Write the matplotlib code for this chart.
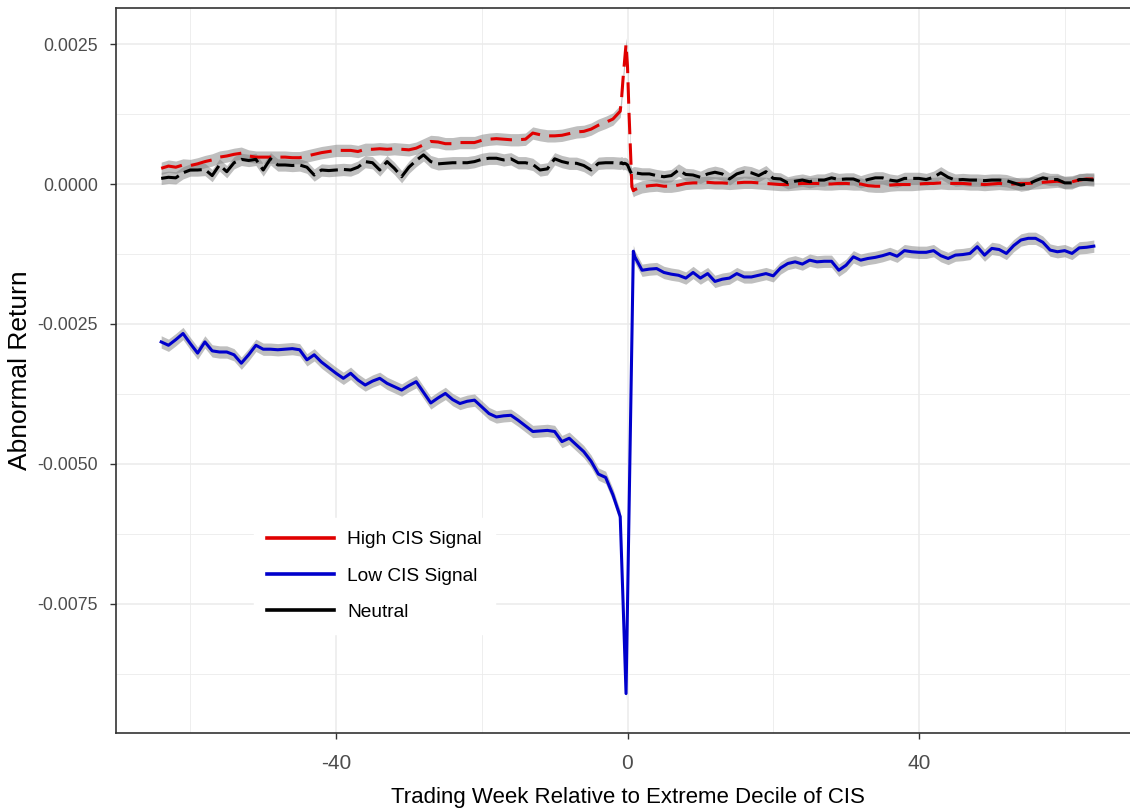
import numpy as np
import matplotlib.pyplot as plt
from matplotlib.lines import Line2D

# event time in trading weeks (daily steps around the event)
weeks_pre = np.arange(-64, -1)
weeks_event = [-1.0, -0.8, -0.6, -0.4, -0.2, 0.0, 0.2, 0.4, 0.6, 0.8, 1.0]
weeks_post = np.arange(2, 65)
weeks = np.concatenate([weeks_pre, weeks_event, weeks_post])

high_pre = [0.00028, 0.00032, 0.00030, 0.00034, 0.00033, 0.00036, 0.00040, 0.00043, 0.00048, 0.00050,
            0.00053, 0.00055, 0.00050, 0.00048, 0.00048, 0.00048, 0.00048, 0.00048, 0.00047, 0.00047,
            0.00050, 0.00053, 0.00056, 0.00058, 0.00060, 0.00060, 0.00060, 0.00058, 0.00062, 0.00062,
            0.00063, 0.00062, 0.00063, 0.00062, 0.00061, 0.00064, 0.00070, 0.00076, 0.00075, 0.00072,
            0.00072, 0.00074, 0.00074, 0.00074, 0.00078, 0.00080, 0.00081, 0.00080, 0.00079, 0.00079,
            0.00080, 0.00091, 0.00088, 0.00086, 0.00086, 0.00087, 0.00090, 0.00093, 0.00094, 0.00098,
            0.00105, 0.00110, 0.00116]
high_event = [0.00130, 0.00155, 0.00190, 0.00220, 0.00250, 0.00210, 0.00130, 0.00060, -0.00005, -0.00012, -0.00010]
high_post = [-0.00005, -0.00003, -0.00002, -0.00004, -0.00004, -0.00002, 0.00001, 0.00002, 0.00002, 0.00003,
             0.00002, 0.00002, 0.00001, 0.00002, 0.00003, 0.00003, 0.00002, 0.00001, 0.00000, -0.00001,
             -0.00001, 0.00000, 0.00001, 0.00001, 0.00001, 0.00000, 0.00000, 0.00001, 0.00001, 0.00000,
             0.00000, -0.00003, -0.00004, -0.00004, -0.00002, -0.00001, -0.00001, -0.00001, 0.00000, 0.00001,
             0.00001, 0.00002, 0.00001, 0.00001, 0.00001, 0.00000, 0.00000, -0.00001, 0.00000, 0.00001,
             0.00000, 0.00000, 0.00001, 0.00001, 0.00002, 0.00003, 0.00004, 0.00005, 0.00003, 0.00004,
             0.00007, 0.00009, 0.00009]

low_pre = [-0.00282, -0.00288, -0.00278, -0.00267, -0.00285, -0.00302, -0.00282, -0.00298, -0.00300, -0.00300,
           -0.00305, -0.00320, -0.00305, -0.00288, -0.00295, -0.00295, -0.00296, -0.00295, -0.00294, -0.00296,
           -0.00314, -0.00305, -0.00318, -0.00328, -0.00338, -0.00347, -0.00338, -0.00350, -0.00359, -0.00352,
           -0.00347, -0.00356, -0.00362, -0.00368, -0.00360, -0.00353, -0.00372, -0.00391, -0.00382, -0.00374,
           -0.00385, -0.00392, -0.00388, -0.00386, -0.00398, -0.00410, -0.00416, -0.00414, -0.00413, -0.00422,
           -0.00432, -0.00442, -0.00441, -0.00440, -0.00442, -0.00460, -0.00454, -0.00466, -0.00478, -0.00495,
           -0.00518, -0.00524, -0.00555]
low_event = [-0.00594, -0.00670, -0.00750, -0.00830, -0.00910, -0.00750, -0.00600, -0.00440, -0.00280, -0.00120, -0.00130]
low_post = [-0.00154, -0.00152, -0.00151, -0.00158, -0.00161, -0.00163, -0.00168, -0.00158, -0.00168, -0.00160,
            -0.00174, -0.00170, -0.00168, -0.00160, -0.00166, -0.00166, -0.00163, -0.00160, -0.00164, -0.00150,
            -0.00142, -0.00139, -0.00143, -0.00136, -0.00139, -0.00138, -0.00138, -0.00154, -0.00145, -0.00130,
            -0.00136, -0.00133, -0.00131, -0.00128, -0.00124, -0.00129, -0.00119, -0.00121, -0.00122, -0.00122,
            -0.00119, -0.00128, -0.00133, -0.00127, -0.00126, -0.00124, -0.00112, -0.00127, -0.00115, -0.00117,
            -0.00124, -0.00110, -0.00100, -0.00097, -0.00097, -0.00104, -0.00118, -0.00121, -0.00119, -0.00124,
            -0.00114, -0.00113, -0.00111]

neutral_pre = [0.00010, 0.00012, 0.00011, 0.00020, 0.00025, 0.00025, 0.00026, 0.00015, 0.00034, 0.00022,
               0.00038, 0.00044, 0.00042, 0.00044, 0.00025, 0.00045, 0.00034, 0.00034, 0.00033, 0.00034,
               0.00030, 0.00016, 0.00025, 0.00024, 0.00025, 0.00026, 0.00025, 0.00030, 0.00040, 0.00038,
               0.00025, 0.00040, 0.00028, 0.00013, 0.00030, 0.00042, 0.00052, 0.00040, 0.00036, 0.00037,
               0.00038, 0.00038, 0.00038, 0.00040, 0.00044, 0.00046, 0.00046, 0.00043, 0.00045, 0.00038,
               0.00038, 0.00035, 0.00025, 0.00027, 0.00045, 0.00040, 0.00037, 0.00037, 0.00033, 0.00025,
               0.00037, 0.00038, 0.00038]
neutral_event = [0.00037, 0.00038, 0.00036, 0.00037, 0.00036, 0.00034, 0.00028, 0.00022, 0.00018, 0.00020, 0.00020]
neutral_post = [0.00018, 0.00018, 0.00015, 0.00013, 0.00015, 0.00025, 0.00017, 0.00016, 0.00012, 0.00018,
                0.00021, 0.00018, 0.00009, 0.00018, 0.00022, 0.00020, 0.00015, 0.00022, 0.00010, 0.00009,
                0.00002, 0.00005, 0.00007, 0.00004, 0.00007, 0.00007, 0.00011, 0.00008, 0.00009, 0.00009,
                0.00004, 0.00008, 0.00011, 0.00011, 0.00007, 0.00005, 0.00010, 0.00010, 0.00010, 0.00008,
                0.00012, 0.00020, 0.00012, 0.00007, 0.00008, 0.00007, 0.00007, 0.00006, 0.00007, 0.00007,
                0.00006, 0.00002, -0.00002, 0.00000, 0.00006, 0.00011, 0.00008, 0.00008, 0.00002, 0.00002,
                0.00008, 0.00008, 0.00007]

band = 0.00011  # half-width of the confidence ribbon

series = [
    ("High CIS Signal", high_pre + high_event + high_post, "#E00000", (7, 3)),
    ("Low CIS Signal", low_pre + low_event + low_post, "#0000CC", None),
    ("Neutral", neutral_pre + neutral_event + neutral_post, "#000000", (6, 2)),
]

font = ["Liberation Sans", "DejaVu Sans"]

fig = plt.figure(figsize=(11.3, 8.09), dpi=100)
ax = fig.add_axes([116 / 1130, 76 / 809, 1023 / 1130, 725 / 809])

for name, vals, col, dash in series:
    vals = np.array(vals)
    ax.fill_between(weeks, vals - band, vals + band, color="grey", alpha=0.5, lw=0, zorder=2)

for name, vals, col, dash in series:
    ln, = ax.plot(weeks, vals, color=col, lw=2.2, zorder=3)
    if dash:
        ln.set_dashes(dash)

ax.set_xlim(-70.2, 70.2)
ax.set_ylim(-0.009804, 0.003143)

yt = [0.0025, 0.0, -0.0025, -0.005, -0.0075]
ax.set_yticks(yt)
ax.set_yticklabels([f"{v:.4f}" for v in yt], family=font, fontsize=12.8, color="#4D4D4D")
ax.set_yticks([0.00125, -0.00125, -0.00375, -0.00625, -0.00875], minor=True)
xt = [-40, 0, 40]
ax.set_xticks(xt)
ax.set_xticklabels([str(v) for v in xt], family=font, fontsize=15, color="#4D4D4D")
ax.set_xticks([-60, -20, 20, 60], minor=True)

ax.grid(True, which="major", color="#EBEBEB", lw=1.1, zorder=0)
ax.grid(True, which="minor", color="#EBEBEB", lw=0.6, zorder=0)
ax.set_axisbelow(True)
ax.tick_params(which="major", length=4, width=1, color="#333333")
ax.tick_params(axis="y", pad=9)
ax.tick_params(axis="x", pad=11)
ax.tick_params(which="minor", length=0)
for s in ax.spines.values():
    s.set_color("#333333")
    s.set_linewidth(1.2)

ax.set_xlabel("Trading Week Relative to Extreme Decile of CIS", family=font, fontsize=16)
ax.xaxis.set_label_coords(0.5, -0.075)
ax.set_ylabel("Abnormal Return", family=font, fontsize=19)
ax.yaxis.set_label_coords(-0.082, 0.5)

handles = [Line2D([], [], color=c, lw=2.6) for _, _, c, _ in series]
leg = ax.legend(handles, [n for n, _, _, _ in series], loc="upper left",
                bbox_to_anchor=(244 / 1130, 1 - 508 / 809), bbox_transform=fig.transFigure,
                prop={"family": font, "size": 13.8}, frameon=True, fancybox=False,
                facecolor="white", edgecolor="white", framealpha=1,
                handlelength=3.5, handletextpad=0.68, labelspacing=0.98, borderpad=0.7)

fig.savefig("out.png", dpi=100)
